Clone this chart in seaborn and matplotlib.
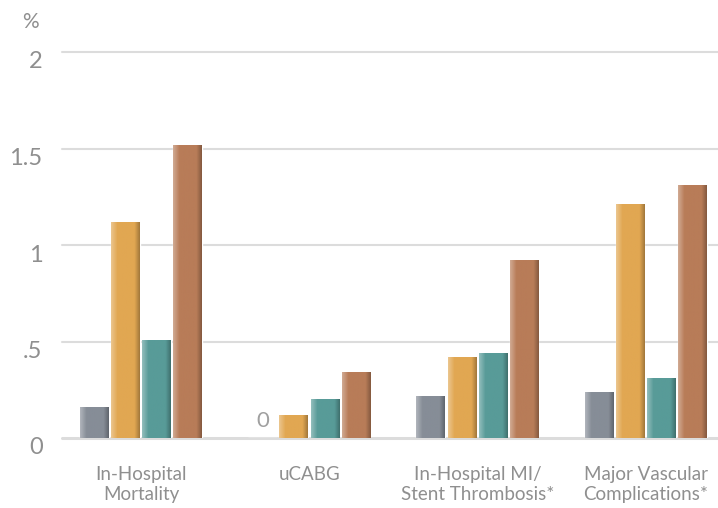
import numpy as np
import pandas as pd
import matplotlib
matplotlib.use("Agg")
import matplotlib.pyplot as plt
import matplotlib.transforms as mtrans
import seaborn as sns
from matplotlib.colors import LinearSegmentedColormap, to_rgb

# data
categories = ["In-Hospital\nMortality", "uCABG",
              "In-Hospital MI/\nStent Thrombosis*", "Major Vascular\nComplications*"]
series = ["A", "B", "C", "D"]
values_a = [0.16, 0.0, 0.22, 0.24]
values_b = [1.12, 0.12, 0.42, 1.21]
values_c = [0.51, 0.20, 0.44, 0.31]
values_d = [1.52, 0.34, 0.92, 1.31]
colors = ["#868d97", "#e1a752", "#589b98", "#b87c58"]
yticks = [0, 0.5, 1, 1.5, 2]
ytick_labels = ["0", ".5", "1", "1.5", "2"]

df = pd.DataFrame({
    "cat": categories * 4,
    "series": np.repeat(series, 4),
    "val": values_a + values_b + values_c + values_d,
})

sns.set_style("white")
plt.rcParams["font.family"] = ["Lato", "DejaVu Sans"]
text_col = "#8f8f8f"

fig = plt.figure(figsize=(7.18, 5.08), dpi=100)
ax = fig.add_axes([62 / 718, 70 / 508, 1 - 62 / 718, 386 / 508])

sns.barplot(data=df, x="cat", y="val", hue="series", palette=colors,
            width=0.74, gap=0.08, legend=False, ax=ax, zorder=3)

ax.set_yticks(yticks)
ax.set_yticklabels(ytick_labels)
for y in yticks:
    ax.axhline(y, color="#dcdcdc", lw=1.5 if y else 2.2, zorder=1, clip_on=False)
for s in ax.spines.values():
    s.set_visible(False)
ax.tick_params(axis="both", length=0, colors=text_col)
ax.tick_params(axis="y", labelsize=17, pad=14)
ax.tick_params(axis="x", labelsize=13.5, pad=20)
ax.set_xlabel("")
ax.set_ylabel("")

# y labels sit a little below their gridlines
shift = mtrans.ScaledTranslation(0, -8 / 100, fig.dpi_scale_trans)
for lab in ax.get_yticklabels():
    lab.set_transform(lab.get_transform() + shift)

# horizontal gradient shading on the bars
grad = np.linspace(0, 1, 64).reshape(1, -1)
for container, c in zip(ax.containers, colors):
    base = np.array(to_rgb(c))
    light = base + (1 - base) * 0.35
    dark = base * 0.72
    cmap = LinearSegmentedColormap.from_list(
        "g", [(0, light), (0.22, base), (0.82, base), (1, dark)])
    for bar in container:
        x, y = bar.get_x(), bar.get_y()
        w, h = bar.get_width(), bar.get_height()
        if h <= 0:
            continue
        im = ax.imshow(grad, cmap=cmap, extent=(x, x + w, y, y + h),
                       aspect="auto", zorder=4)
        im.set_clip_path(bar)
ax.set_xlim(-0.47, 3.43)
ax.set_ylim(0, 2)

# "0" marker for the zero bar
zbar = ax.containers[0][1]
ax.text(zbar.get_x() + zbar.get_width() / 2, 0.035, "0", ha="center",
        va="bottom", fontsize=16, color="#a0a0a0")

fig.text(30 / 718, 1 - 22 / 508, "%", ha="center", va="center",
         fontsize=15, color=text_col)

fig.savefig("out.png", dpi=100, facecolor="white")
